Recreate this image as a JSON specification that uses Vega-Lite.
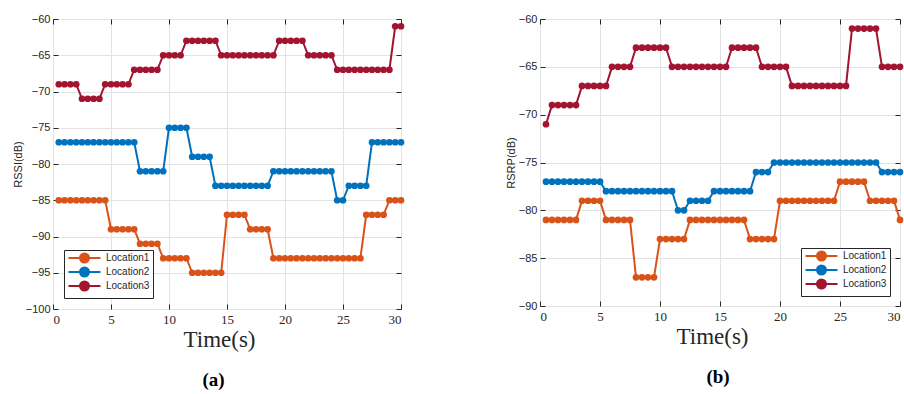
{
  "$schema": "https://vega.github.io/schema/vega-lite/v6.json",
  "background": "white",
  "padding": {"left": 11, "top": 12, "right": 0, "bottom": 0},
  "datasets": {
    "a": [
      {"t":0.5,"Location1":-85,"Location2":-77,"Location3":-69},
      {"t":1,"Location1":-85,"Location2":-77,"Location3":-69},
      {"t":1.5,"Location1":-85,"Location2":-77,"Location3":-69},
      {"t":2,"Location1":-85,"Location2":-77,"Location3":-69},
      {"t":2.5,"Location1":-85,"Location2":-77,"Location3":-71},
      {"t":3,"Location1":-85,"Location2":-77,"Location3":-71},
      {"t":3.5,"Location1":-85,"Location2":-77,"Location3":-71},
      {"t":4,"Location1":-85,"Location2":-77,"Location3":-71},
      {"t":4.5,"Location1":-85,"Location2":-77,"Location3":-69},
      {"t":5,"Location1":-89,"Location2":-77,"Location3":-69},
      {"t":5.5,"Location1":-89,"Location2":-77,"Location3":-69},
      {"t":6,"Location1":-89,"Location2":-77,"Location3":-69},
      {"t":6.5,"Location1":-89,"Location2":-77,"Location3":-69},
      {"t":7,"Location1":-89,"Location2":-77,"Location3":-67},
      {"t":7.5,"Location1":-91,"Location2":-81,"Location3":-67},
      {"t":8,"Location1":-91,"Location2":-81,"Location3":-67},
      {"t":8.5,"Location1":-91,"Location2":-81,"Location3":-67},
      {"t":9,"Location1":-91,"Location2":-81,"Location3":-67},
      {"t":9.5,"Location1":-93,"Location2":-81,"Location3":-65},
      {"t":10,"Location1":-93,"Location2":-75,"Location3":-65},
      {"t":10.5,"Location1":-93,"Location2":-75,"Location3":-65},
      {"t":11,"Location1":-93,"Location2":-75,"Location3":-65},
      {"t":11.5,"Location1":-93,"Location2":-75,"Location3":-63},
      {"t":12,"Location1":-95,"Location2":-79,"Location3":-63},
      {"t":12.5,"Location1":-95,"Location2":-79,"Location3":-63},
      {"t":13,"Location1":-95,"Location2":-79,"Location3":-63},
      {"t":13.5,"Location1":-95,"Location2":-79,"Location3":-63},
      {"t":14,"Location1":-95,"Location2":-83,"Location3":-63},
      {"t":14.5,"Location1":-95,"Location2":-83,"Location3":-65},
      {"t":15,"Location1":-87,"Location2":-83,"Location3":-65},
      {"t":15.5,"Location1":-87,"Location2":-83,"Location3":-65},
      {"t":16,"Location1":-87,"Location2":-83,"Location3":-65},
      {"t":16.5,"Location1":-87,"Location2":-83,"Location3":-65},
      {"t":17,"Location1":-89,"Location2":-83,"Location3":-65},
      {"t":17.5,"Location1":-89,"Location2":-83,"Location3":-65},
      {"t":18,"Location1":-89,"Location2":-83,"Location3":-65},
      {"t":18.5,"Location1":-89,"Location2":-83,"Location3":-65},
      {"t":19,"Location1":-93,"Location2":-81,"Location3":-65},
      {"t":19.5,"Location1":-93,"Location2":-81,"Location3":-63},
      {"t":20,"Location1":-93,"Location2":-81,"Location3":-63},
      {"t":20.5,"Location1":-93,"Location2":-81,"Location3":-63},
      {"t":21,"Location1":-93,"Location2":-81,"Location3":-63},
      {"t":21.5,"Location1":-93,"Location2":-81,"Location3":-63},
      {"t":22,"Location1":-93,"Location2":-81,"Location3":-65},
      {"t":22.5,"Location1":-93,"Location2":-81,"Location3":-65},
      {"t":23,"Location1":-93,"Location2":-81,"Location3":-65},
      {"t":23.5,"Location1":-93,"Location2":-81,"Location3":-65},
      {"t":24,"Location1":-93,"Location2":-81,"Location3":-65},
      {"t":24.5,"Location1":-93,"Location2":-85,"Location3":-67},
      {"t":25,"Location1":-93,"Location2":-85,"Location3":-67},
      {"t":25.5,"Location1":-93,"Location2":-83,"Location3":-67},
      {"t":26,"Location1":-93,"Location2":-83,"Location3":-67},
      {"t":26.5,"Location1":-93,"Location2":-83,"Location3":-67},
      {"t":27,"Location1":-87,"Location2":-83,"Location3":-67},
      {"t":27.5,"Location1":-87,"Location2":-77,"Location3":-67},
      {"t":28,"Location1":-87,"Location2":-77,"Location3":-67},
      {"t":28.5,"Location1":-87,"Location2":-77,"Location3":-67},
      {"t":29,"Location1":-85,"Location2":-77,"Location3":-67},
      {"t":29.5,"Location1":-85,"Location2":-77,"Location3":-61},
      {"t":30,"Location1":-85,"Location2":-77,"Location3":-61}
    ],
    "b": [
      {"t":0.5,"Location1":-81,"Location2":-77,"Location3":-71},
      {"t":1,"Location1":-81,"Location2":-77,"Location3":-69},
      {"t":1.5,"Location1":-81,"Location2":-77,"Location3":-69},
      {"t":2,"Location1":-81,"Location2":-77,"Location3":-69},
      {"t":2.5,"Location1":-81,"Location2":-77,"Location3":-69},
      {"t":3,"Location1":-81,"Location2":-77,"Location3":-69},
      {"t":3.5,"Location1":-79,"Location2":-77,"Location3":-67},
      {"t":4,"Location1":-79,"Location2":-77,"Location3":-67},
      {"t":4.5,"Location1":-79,"Location2":-77,"Location3":-67},
      {"t":5,"Location1":-79,"Location2":-77,"Location3":-67},
      {"t":5.5,"Location1":-81,"Location2":-78,"Location3":-67},
      {"t":6,"Location1":-81,"Location2":-78,"Location3":-65},
      {"t":6.5,"Location1":-81,"Location2":-78,"Location3":-65},
      {"t":7,"Location1":-81,"Location2":-78,"Location3":-65},
      {"t":7.5,"Location1":-81,"Location2":-78,"Location3":-65},
      {"t":8,"Location1":-87,"Location2":-78,"Location3":-63},
      {"t":8.5,"Location1":-87,"Location2":-78,"Location3":-63},
      {"t":9,"Location1":-87,"Location2":-78,"Location3":-63},
      {"t":9.5,"Location1":-87,"Location2":-78,"Location3":-63},
      {"t":10,"Location1":-83,"Location2":-78,"Location3":-63},
      {"t":10.5,"Location1":-83,"Location2":-78,"Location3":-63},
      {"t":11,"Location1":-83,"Location2":-78,"Location3":-65},
      {"t":11.5,"Location1":-83,"Location2":-80,"Location3":-65},
      {"t":12,"Location1":-83,"Location2":-80,"Location3":-65},
      {"t":12.5,"Location1":-81,"Location2":-79,"Location3":-65},
      {"t":13,"Location1":-81,"Location2":-79,"Location3":-65},
      {"t":13.5,"Location1":-81,"Location2":-79,"Location3":-65},
      {"t":14,"Location1":-81,"Location2":-79,"Location3":-65},
      {"t":14.5,"Location1":-81,"Location2":-78,"Location3":-65},
      {"t":15,"Location1":-81,"Location2":-78,"Location3":-65},
      {"t":15.5,"Location1":-81,"Location2":-78,"Location3":-65},
      {"t":16,"Location1":-81,"Location2":-78,"Location3":-63},
      {"t":16.5,"Location1":-81,"Location2":-78,"Location3":-63},
      {"t":17,"Location1":-81,"Location2":-78,"Location3":-63},
      {"t":17.5,"Location1":-83,"Location2":-78,"Location3":-63},
      {"t":18,"Location1":-83,"Location2":-76,"Location3":-63},
      {"t":18.5,"Location1":-83,"Location2":-76,"Location3":-65},
      {"t":19,"Location1":-83,"Location2":-76,"Location3":-65},
      {"t":19.5,"Location1":-83,"Location2":-75,"Location3":-65},
      {"t":20,"Location1":-79,"Location2":-75,"Location3":-65},
      {"t":20.5,"Location1":-79,"Location2":-75,"Location3":-65},
      {"t":21,"Location1":-79,"Location2":-75,"Location3":-67},
      {"t":21.5,"Location1":-79,"Location2":-75,"Location3":-67},
      {"t":22,"Location1":-79,"Location2":-75,"Location3":-67},
      {"t":22.5,"Location1":-79,"Location2":-75,"Location3":-67},
      {"t":23,"Location1":-79,"Location2":-75,"Location3":-67},
      {"t":23.5,"Location1":-79,"Location2":-75,"Location3":-67},
      {"t":24,"Location1":-79,"Location2":-75,"Location3":-67},
      {"t":24.5,"Location1":-79,"Location2":-75,"Location3":-67},
      {"t":25,"Location1":-77,"Location2":-75,"Location3":-67},
      {"t":25.5,"Location1":-77,"Location2":-75,"Location3":-67},
      {"t":26,"Location1":-77,"Location2":-75,"Location3":-61},
      {"t":26.5,"Location1":-77,"Location2":-75,"Location3":-61},
      {"t":27,"Location1":-77,"Location2":-75,"Location3":-61},
      {"t":27.5,"Location1":-79,"Location2":-75,"Location3":-61},
      {"t":28,"Location1":-79,"Location2":-75,"Location3":-61},
      {"t":28.5,"Location1":-79,"Location2":-76,"Location3":-65},
      {"t":29,"Location1":-79,"Location2":-76,"Location3":-65},
      {"t":29.5,"Location1":-79,"Location2":-76,"Location3":-65},
      {"t":30,"Location1":-81,"Location2":-76,"Location3":-65}
    ]
  },
  "config": {
    "view": {"stroke": "#262626", "strokeWidth": 1},
    "axis": {"labelColor": "#262626", "tickColor": "#262626", "titleColor": "#262626", "gridColor": "#e3e3e3", "domain": false},
    "legend": {
      "title": null,
      "symbolType": "M-1,0L8.14,0M2.28,0A1.29,1.29,0,1,1,4.86,0A1.29,1.29,0,1,1,2.28,0Z",
      "symbolSize": 49,
      "symbolStrokeWidth": 2,
      "labelOffset": 29,
      "labelFont": "Liberation Sans",
      "labelFontSize": 10,
      "labelColor": "#262626",
      "strokeColor": "#262626",
      "fillColor": "white",
      "cornerRadius": 0,
      "padding": 3,
      "rowPadding": -4.5
    }
  },
  "spacing": 98,
  "resolve": {"legend": {"color": "independent"}},
  "hconcat": [
    {
      "width": 348,
      "height": 290,
      "data": {"name": "a"},
      "transform": [{"fold": ["Location1", "Location2", "Location3"], "as": ["loc", "v"]}],
      "title": {"text": "(a)", "orient": "bottom", "frame": "bounds", "dx": 5, "font": "Liberation Serif", "fontSize": 19, "fontWeight": "bold", "color": "#000000", "offset": 20},
      "resolve": {"axis": {"x": "independent", "y": "independent"}},
      "layer": [
        {
          "mark": {"type": "line", "strokeWidth": 2},
          "encoding": {
            "x": {"field": "t", "type": "quantitative", "scale": {"domain": [0, 30], "nice": false}, "axis": {"values": [0,5,10,15,20,25,30], "title": "Time(s)", "titleFont": "Liberation Serif", "titleFontSize": 23, "titleFontWeight": "normal", "titlePadding": 2, "titleX": 166, "labelFont": "Liberation Serif", "labelFontSize": 13, "tickSize": -5, "labelPadding": 9, "grid": true}},
            "y": {"field": "v", "type": "quantitative", "scale": {"domain": [-100, -60], "nice": false, "zero": false}, "axis": {"values": [-100,-95,-90,-85,-80,-75,-70,-65,-60], "title": "RSSI(dB)", "titleFont": "Liberation Sans", "titleFontSize": 11, "titleFontWeight": "normal", "titlePadding": 2, "labelFont": "Liberation Sans", "labelFontSize": 11, "tickSize": -5, "labelPadding": 8, "grid": true}},
            "color": {"field": "loc", "type": "nominal", "scale": {"domain": ["Location1", "Location2", "Location3"], "range": ["#D95319", "#0072BD", "#A2142F"]}, "legend": {"orient": "bottom-left", "offset": 11}}
          }
        },
        {
          "mark": {"type": "point", "filled": true, "size": 45, "opacity": 1},
          "encoding": {
            "x": {"field": "t", "type": "quantitative", "axis": null},
            "y": {"field": "v", "type": "quantitative", "axis": null},
            "color": {"field": "loc", "type": "nominal"}
          }
        },
        {
          "mark": {"type": "point", "opacity": 0},
          "encoding": {
            "x": {"field": "t", "type": "quantitative", "axis": {"orient": "top", "values": [0,5,10,15,20,25,30], "labels": false, "title": null, "grid": false, "tickSize": -5}},
            "y": {"field": "v", "type": "quantitative", "axis": {"orient": "right", "values": [-100,-95,-90,-85,-80,-75,-70,-65,-60], "labels": false, "title": null, "grid": false, "tickSize": -5}}
          }
        }
      ]
    },
    {
      "width": 360,
      "height": 287,
      "data": {"name": "b"},
      "transform": [{"fold": ["Location1", "Location2", "Location3"], "as": ["loc", "v"]}],
      "title": {"text": "(b)", "orient": "bottom", "frame": "group", "dx": -2, "font": "Liberation Serif", "fontSize": 19, "fontWeight": "bold", "color": "#000000", "offset": 20},
      "resolve": {"axis": {"x": "independent", "y": "independent"}},
      "layer": [
        {
          "mark": {"type": "line", "strokeWidth": 2},
          "encoding": {
            "x": {"field": "t", "type": "quantitative", "scale": {"domain": [0, 30], "nice": false}, "axis": {"values": [0,5,10,15,20,25,30], "title": "Time(s)", "titleFont": "Liberation Serif", "titleFontSize": 23, "titleFontWeight": "normal", "titlePadding": 2, "titleX": 172, "labelFont": "Liberation Serif", "labelFontSize": 13, "tickSize": -5, "labelPadding": 9, "grid": true}},
            "y": {"field": "v", "type": "quantitative", "scale": {"domain": [-90, -60], "nice": false, "zero": false}, "axis": {"values": [-90,-85,-80,-75,-70,-65,-60], "title": "RSRP(dB)", "titleFont": "Liberation Sans", "titleFontSize": 11, "titleFontWeight": "normal", "titlePadding": 2, "labelFont": "Liberation Sans", "labelFontSize": 11, "tickSize": -5, "labelPadding": 8, "grid": true}},
            "color": {"field": "loc", "type": "nominal", "scale": {"domain": ["Location1", "Location2", "Location3"], "range": ["#D95319", "#0072BD", "#A2142F"]}, "legend": {"orient": "bottom-right", "offset": 10}}
          }
        },
        {
          "mark": {"type": "point", "filled": true, "size": 45, "opacity": 1},
          "encoding": {
            "x": {"field": "t", "type": "quantitative", "axis": null},
            "y": {"field": "v", "type": "quantitative", "axis": null},
            "color": {"field": "loc", "type": "nominal"}
          }
        },
        {
          "mark": {"type": "point", "opacity": 0},
          "encoding": {
            "x": {"field": "t", "type": "quantitative", "axis": {"orient": "top", "values": [0,5,10,15,20,25,30], "labels": false, "title": null, "grid": false, "tickSize": -5}},
            "y": {"field": "v", "type": "quantitative", "axis": {"orient": "right", "values": [-90,-85,-80,-75,-70,-65,-60], "labels": false, "title": null, "grid": false, "tickSize": -5}}
          }
        }
      ]
    }
  ]
}
